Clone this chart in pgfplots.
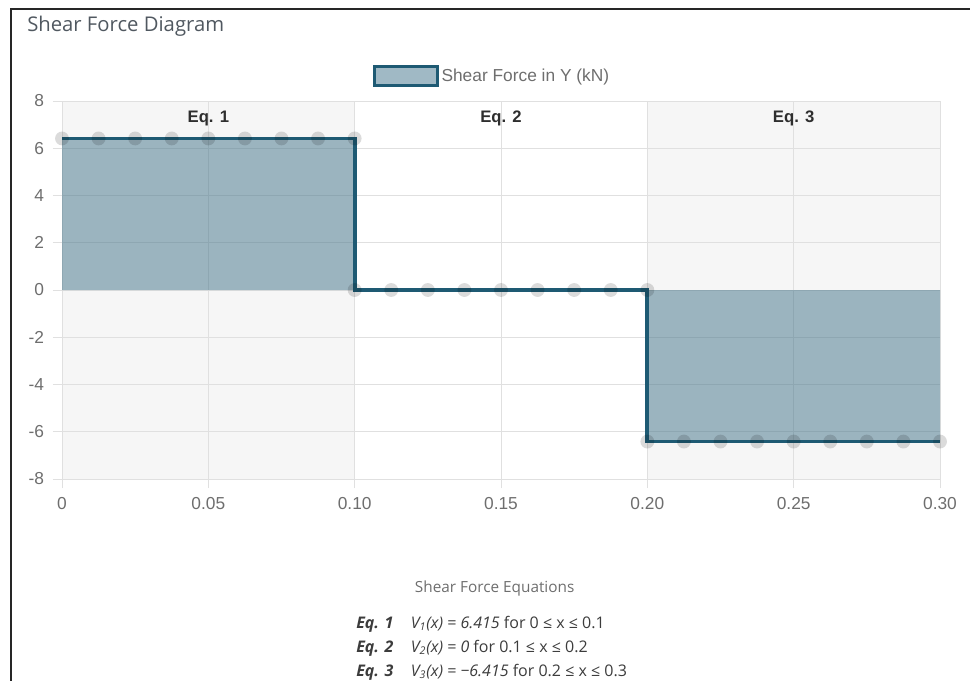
\documentclass[border=0pt]{standalone}
\usepackage{pgfplots}
\pgfplotsset{compat=1.18}
\usepackage{pgfplotstable}
\usepackage{fontspec}
\setmainfont{Liberation Sans}
\newfontfamily\opensans{Open Sans}

\definecolor{sfline}{RGB}{30,90,115}
\definecolor{sffill}{RGB}{160,185,197}
\definecolor{band}{RGB}{246,246,246}
\definecolor{gridc}{RGB}{224,224,224}
\definecolor{ticktext}{RGB}{110,110,110}
\definecolor{titletext}{RGB}{80,88,96}
\definecolor{eqtext}{RGB}{60,60,60}

% Shear force V(x) sampled along the beam
\pgfplotstableread{
x       V
0.0000  6.415
0.0125  6.415
0.0250  6.415
0.0375  6.415
0.0500  6.415
0.0625  6.415
0.0750  6.415
0.0875  6.415
0.1000  6.415
0.1000  0
0.1125  0
0.1250  0
0.1375  0
0.1500  0
0.1625  0
0.1750  0
0.1875  0
0.2000  0
0.2000  -6.415
0.2125  -6.415
0.2250  -6.415
0.2375  -6.415
0.2500  -6.415
0.2625  -6.415
0.2750  -6.415
0.2875  -6.415
0.3000  -6.415
}\shear

\begin{document}
\begin{tikzpicture}
\node[anchor=base west, inner sep=0pt, text=titletext,
      font=\opensans\fontsize{15.2}{18}\selectfont] at (20.25pt,-24pt) {Shear Force Diagram};

\begin{axis}[
  set layers,
  at={(46.5pt,-359.25pt)}, anchor=south west,
  scale only axis, width=658.5pt, height=283.5pt,
  xmin=0, xmax=0.3, ymin=-8, ymax=8,
  xtick={0,0.05,0.1,0.15,0.2,0.25,0.3},
  xticklabels={0,0.05,0.10,0.15,0.20,0.25,0.30},
  ytick={-8,-6,-4,-2,0,2,4,6,8},
  yticklabels={-8,-6,-4,-2,0,2,4,6,8},
  xtick pos=left, ytick pos=left,
  tick align=outside, major tick length=7pt,
  grid=major,
  grid style={gridc, line width=0.75pt},
  axis line style={gridc, line width=0.75pt},
  tick style={gridc, line width=0.75pt},
  ticklabel style={font=\fontsize{13}{15}\selectfont, text=ticktext},
  xticklabel style={yshift=-3.5pt},
  yticklabel style={xshift=-3pt},
  legend style={at={(0.4903,1)}, anchor=center, yshift=18.75pt,
    draw=none, fill=none, font=\fontsize{13}{15}\selectfont, text=ticktext},
  legend cell align=left,
]
% alternating background bands for equations 1 and 3
\addplot[on layer=axis background, fill=band, draw=none, forget plot]
  coordinates {(0,-8) (0,8) (0.1,8) (0.1,-8)};
\addplot[on layer=axis background, fill=band, draw=none, forget plot]
  coordinates {(0.2,-8) (0.2,8) (0.3,8) (0.3,-8)};

% area under the shear curve
\addplot[fill=sfline, fill opacity=0.42, draw=none,
  legend image code/.code={
    \draw[sfline, line width=2.3pt, fill=sffill, fill opacity=1, draw opacity=1]
      (0pt,-7pt) rectangle (47pt,7pt);}]
  table[x=x, y=V] {\shear} \closedcycle;
\addlegendentry{Shear Force in Y (kN)}

% sample points (soft halos under the curve)
\addplot[only marks, mark=*, mark size=5.2pt, forget plot,
  mark options={draw opacity=0, fill=black, fill opacity=0.14}]
  table[x=x, y=V] {\shear};
% shear curve
\addplot[sfline, line width=2.8pt, no marks, forget plot]
  table[x=x, y=V] {\shear};

\node[font=\bfseries\fontsize{12.5}{15}\selectfont, text=black!82] at (axis cs:0.05,7.28) {Eq. 1};
\node[font=\bfseries\fontsize{12.5}{15}\selectfont, text=black!82] at (axis cs:0.15,7.28) {Eq. 2};
\node[font=\bfseries\fontsize{12.5}{15}\selectfont, text=black!82] at (axis cs:0.25,7.28) {Eq. 3};
\end{axis}

% equation summary below the chart
\node[text=ticktext, font=\opensans\fontsize{11.5}{14}\selectfont] at (371pt,-441.75pt) {Shear Force Equations};
\begin{scope}[every node/.style={anchor=base west, inner sep=0pt, text=eqtext,
    font=\opensans\fontsize{12}{14}\selectfont}]
\node at (267pt,-471pt) {\bfseries\itshape Eq. 1};
\node at (308pt,-471pt) {\itshape V\textsubscript{1}(x) = 6.415\upshape{} for 0 ≤ x ≤ 0.1};
\node at (267pt,-489pt) {\bfseries\itshape Eq. 2};
\node at (308pt,-489pt) {\itshape V\textsubscript{2}(x) = 0\upshape{} for 0.1 ≤ x ≤ 0.2};
\node at (267pt,-507pt) {\bfseries\itshape Eq. 3};
\node at (308pt,-507pt) {\itshape V\textsubscript{3}(x) = −6.415\upshape{} for 0.2 ≤ x ≤ 0.3};
\end{scope}

% panel frame
\draw[line width=2.2pt, black!85, line join=miter]
  (8.25pt,-520pt) -- (8.25pt,-6.75pt) -- (740pt,-6.75pt);

\pgfresetboundingbox
\path[use as bounding box] (0,0) rectangle (727.5pt,-510.75pt);
\end{tikzpicture}
\end{document}
